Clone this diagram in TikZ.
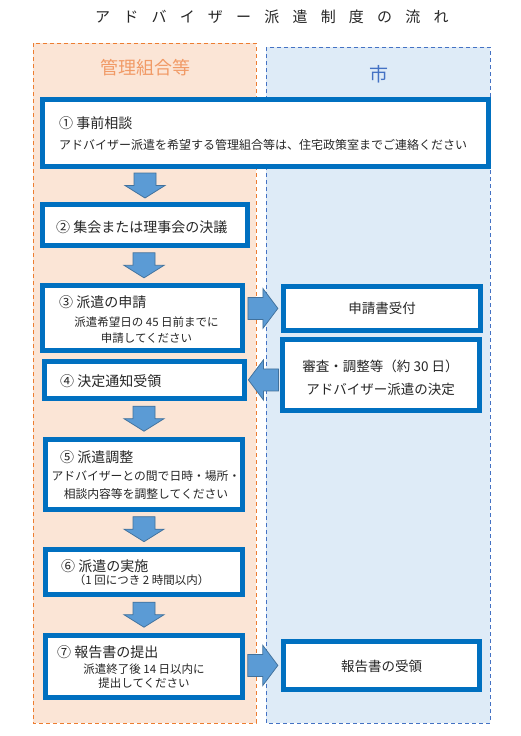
\documentclass[tikz,border=0pt]{standalone}
\usepackage{fontspec}
\setmainfont{Noto Sans CJK JP}
\newfontfamily\titlefont[LetterSpace=88]{Noto Sans CJK JP}
\usetikzlibrary{calc}
\definecolor{boxblue}{HTML}{0070C0}
\definecolor{arrfill}{HTML}{5B9BD5}
\definecolor{arrdraw}{HTML}{41719C}
\definecolor{orfill}{HTML}{FBE5D6}
\definecolor{ordraw}{HTML}{ED7D31}
\definecolor{orlabel}{HTML}{F19A66}
\definecolor{blfill}{HTML}{DEEBF7}
\definecolor{bldraw}{HTML}{4472C4}
\definecolor{txt}{HTML}{262626}
\tikzset{
  box/.style={draw=boxblue, line width=5pt, fill=white, inner sep=0pt},
  head/.style={font=\fontsize{14}{16}\selectfont, text=txt, anchor=west, inner sep=0pt},
  subtxt/.style={font=\fontsize{11.5}{16}\selectfont, text=txt, align=center, inner sep=0pt},
  rtxt/.style={font=\fontsize{13.5}{16}\selectfont, text=txt, align=center, inner sep=0pt},
  blockarrow/.style={fill=arrfill, draw=arrdraw, line width=0.75pt, line join=miter},
  downarr/.pic={\path[blockarrow] (-11,-12.5) -- (11,-12.5) -- (11,0) -- (20,0) -- (0,12.5) -- (-20,0) -- (-11,0) -- cycle;},
  rightarr/.pic={\path[blockarrow] (-15,-11) -- (0,-11) -- (0,-20) -- (15,0) -- (0,20) -- (0,11) -- (-15,11) -- cycle;},
  leftarr/.pic={\path[blockarrow] (15,-11) -- (0,-11) -- (0,-20) -- (-15,0) -- (0,20) -- (0,11) -- (15,11) -- cycle;},
}
\begin{document}
\begin{tikzpicture}[x=1pt,y=-1pt]
\useasboundingbox (0,0) rectangle (521,736);
% title
\node[font=\titlefont\fontsize{15}{18}\selectfont, text=txt, anchor=west, inner sep=0pt] (title) at (95,17) {アドバイザー派遣制度の流れ};
% panels
\path[fill=orfill, draw=ordraw, line width=1pt, dash pattern=on 4pt off 3pt] (33,43) rectangle (256,723);
\path[fill=blfill, draw=bldraw, line width=1pt, dash pattern=on 4pt off 3pt] (266,47) rectangle (490,723);
\node[font=\fontsize{18}{20}\selectfont, text=orlabel, inner sep=0pt] (lbl1) at (145,68) {管理組合等};
\node[font=\fontsize{19}{20}\selectfont, text=bldraw, inner sep=0pt] (lbl2) at (379,74) {市};
% boxes
\node[box, minimum width=446pt, minimum height=67pt] (b1) at (265.5,133) {};
\node[box, minimum width=205pt, minimum height=41pt] (b2) at (145,225) {};
\node[box, minimum width=200pt, minimum height=65pt] (b3) at (142.5,317.7) {};
\node[box, minimum width=200pt, minimum height=36.7pt] (b4) at (144.2,379.9) {};
\node[box, minimum width=197pt, minimum height=70pt] (b5) at (144,474.2) {};
\node[box, minimum width=197pt, minimum height=45pt] (b6) at (144,571.7) {};
\node[box, minimum width=197pt, minimum height=62.3pt] (b7) at (144,666.4) {};
\node[box, minimum width=197.3pt, minimum height=43.7pt] (r1) at (381.9,308.4) {};
\node[box, minimum width=196.7pt, minimum height=71pt] (r2) at (380.9,374.7) {};
\node[box, minimum width=196pt, minimum height=47.7pt] (r3) at (381.2,665.4) {};
% texts
\node[head] (t1a) at (59,123) {① 事前相談};
\node[head, font=\fontsize{12}{14}\selectfont] (t1b) at (59,145) {アドバイザー派遣を希望する管理組合等は、住宅政策室までご連絡ください};
\node[head] (t2) at (56,227) {② 集会または理事会の決議};
\node[head] (t3a) at (59,302) {③ 派遣の申請};
\node[subtxt, font=\fontsize{11.5}{16.7}\selectfont] (t3b) at (146.5,330) {派遣希望日の 45 日前までに\\申請してください};
\node[head] (t4) at (60,381) {④ 決定通知受領};
\node[head] (t5a) at (60,457) {⑤ 派遣調整};
\node[subtxt, font=\fontsize{11.8}{18.3}\selectfont] (t5b) at (146,485) {アドバイザーとの間で日時・場所・\\相談内容等を調整してください};
\node[head] (t6a) at (61,565.7) {⑥ 派遣の実施};
\node[subtxt] (t6b) at (141.7,580) {（1 回につき 2 時間以内）};
\node[head] (t7a) at (57,651.7) {⑦ 報告書の提出};
\node[subtxt, font=\fontsize{11.5}{14}\selectfont] (t7b) at (144,676) {派遣終了後 14 日以内に\\提出してください};
\node[rtxt] (tr1) at (382,308) {申請書受付};
\node[rtxt, font=\fontsize{13.5}{23}\selectfont] (tr2) at (380.5,377.5) {審査・調整等（約 30 日）\\アドバイザー派遣の決定};
\node[rtxt] (tr3) at (381.7,666.7) {報告書の受領};
% arrows
\pic at ($(b1.south -| b2.north)!0.5!(b2.north)$) {downarr};
\pic at ($(b2.south -| b5.north)!0.5!(b3.north -| b5.north)$) {downarr};
\pic at ($(b4.south -| b5.north)!0.5!(b5.north)$) {downarr};
\pic at ($(b5.south)!0.5!(b6.north)$) {downarr};
\pic at ($(b6.south)!0.5!(b7.north)$) {downarr};
\pic at ($(b3.east |- r1.west)!0.5!(r1.west)$) {rightarr};
\pic at ($(r2.west |- b4.east)!0.5!(b4.east)$) {leftarr};
\pic at ($(b7.east |- r3.west)!0.5!(r3.west)$) {rightarr};
\end{tikzpicture}
\end{document}
